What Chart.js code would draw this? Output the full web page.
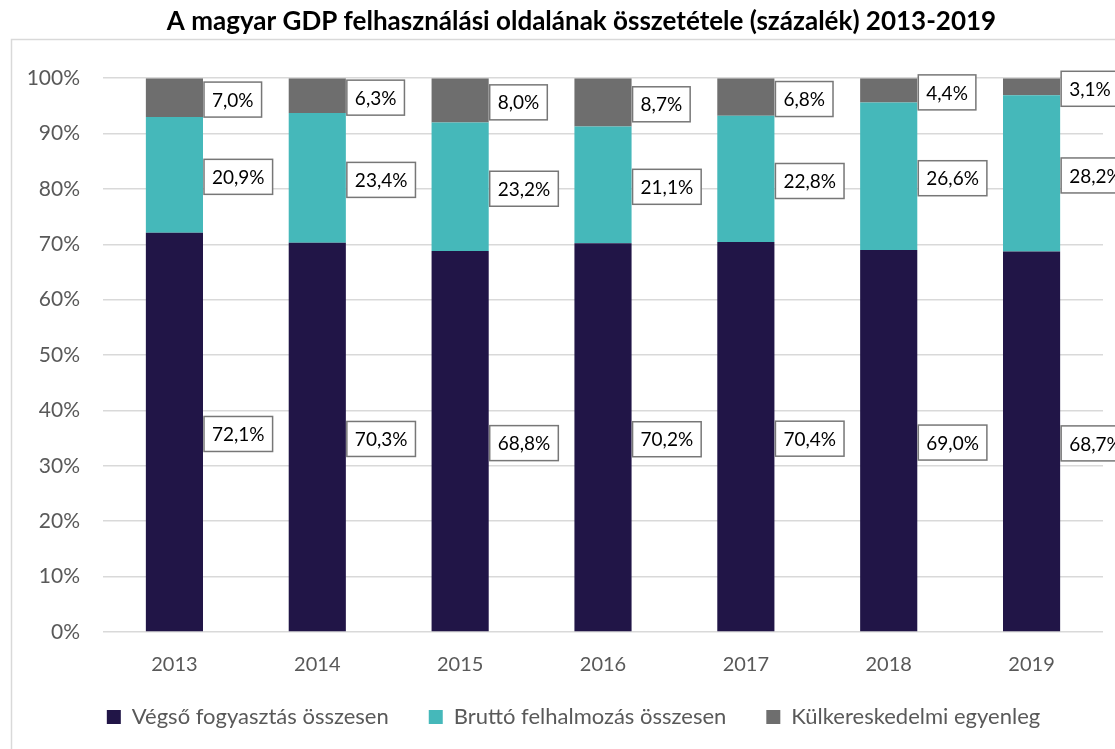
<!DOCTYPE html>
<html>
<head>
<meta charset="utf-8">
<script src="https://cdn.jsdelivr.net/npm/chart.js@4"></script>
<style>
  body { margin: 0; background: #fff; }
  #wrap { width: 1115px; height: 749px; }
</style>
</head>
<body>
<div id="wrap"><canvas id="myChart" width="1115" height="749"></canvas></div>
<script>
const years = ['2013', '2014', '2015', '2016', '2017', '2018', '2019'];
const vegso = [72.1, 70.3, 68.8, 70.2, 70.4, 69.0, 68.7];
const brutto = [20.9, 23.4, 23.2, 21.1, 22.8, 26.6, 28.2];
const kulker = [7.0, 6.3, 8.0, 8.7, 6.8, 4.4, 3.1];
const yTicks = [0, 10, 20, 30, 40, 50, 60, 70, 80, 90, 100];

const FONT = 'Lato, "Open Sans", sans-serif';

// frame round the chart body, like the Excel chart area
const framePlugin = {
    id: 'frame',
    beforeDraw(chart) {
        const ctx = chart.ctx;
        ctx.save();
        ctx.strokeStyle = '#d9d9d9';
        ctx.lineWidth = 1.5;
        ctx.strokeRect(11.5, 39.5, chart.width + 20, chart.height + 20);
        ctx.restore();
    }
};

// legend and title sit a little right of centre in the original
const boxShift = {
    id: 'boxShift',
    afterLayout(chart) {
        chart.legend.left += 22;
        chart.legend.right += 22;
        chart.legend.top -= 11;
        chart.legend.bottom -= 11;
        chart.titleBlock.left += 30;
        chart.titleBlock.right += 30;
    }
};

// boxed value labels to the right of each segment
const boxLabels = {
    id: 'boxLabels',
    afterDatasetsDraw(chart) {
        const ctx = chart.ctx;
        ctx.save();
        ctx.font = '19px ' + FONT;
        ctx.textBaseline = 'middle';
        chart.data.datasets.forEach((ds, i) => {
            const meta = chart.getDatasetMeta(i);
            meta.data.forEach((bar, j) => {
                const text = ds.data[j].toFixed(1).replace('.', ',') + '%';
                const w = ctx.measureText(text).width + 16;
                const h = 35;
                const x = bar.x + bar.width / 2 + 1;
                const yMid = (bar.y + bar.base) / 2;
                const y = yMid - h / 2 + 2;
                ctx.fillStyle = '#fff';
                ctx.fillRect(x, y, w, h);
                ctx.strokeStyle = '#777';
                ctx.lineWidth = 1.5;
                ctx.strokeRect(x, y, w, h);
                ctx.fillStyle = '#000';
                ctx.textAlign = 'left';
                ctx.fillText(text, x + 8, y + h / 2 + 1);
            });
        });
        ctx.restore();
    }
};

const ctx = document.getElementById('myChart');

new Chart(ctx, {
    type: 'bar',
    data: {
        labels: years,
        datasets: [
            { label: 'Végső fogyasztás összesen', data: vegso, backgroundColor: '#211547' },
            { label: 'Bruttó felhalmozás összesen', data: brutto, backgroundColor: '#45b8ba' },
            { label: 'Külkereskedelmi egyenleg', data: kulker, backgroundColor: '#6e6e6e' }
        ]
    },
    options: {
        responsive: false,
        animation: false,
        layout: { padding: { left: 0, right: 12, bottom: 0 } },
        datasets: { bar: { barPercentage: 0.4, categoryPercentage: 1.0 } },
        plugins: {
            title: {
                display: true,
                text: 'A magyar GDP felhasználási oldalának összetétele (százalék) 2013-2019',
                color: '#000',
                font: { family: FONT, size: 26, weight: 'bold' },
                padding: { top: 6, bottom: 41 }
            },
            legend: {
                position: 'bottom',
                labels: {
                    color: '#595959',
                    font: { family: FONT, size: 22 },
                    boxWidth: 14,
                    boxHeight: 14,
                    padding: 40
                }
            },
            tooltip: { enabled: false }
        },
        scales: {
            x: {
                stacked: true,
                afterFit(scale) { scale.height = 45; },
                grid: { display: false },
                border: { display: false },
                ticks: { color: '#595959', font: { family: FONT, size: 20 }, padding: 13 }
            },
            y: {
                stacked: true,
                min: 0,
                max: 100,
                afterFit(scale) { scale.width = 103; },
                afterBuildTicks(scale) { scale.ticks = yTicks.map(v => ({ value: v })); },
                grid: { color: '#d9d9d9', lineWidth: 1.5, drawTicks: false },
                border: { display: false },
                ticks: {
                    color: '#595959',
                    font: { family: FONT, size: 21 },
                    padding: 23,
                    callback: (v) => v + '%'
                }
            }
        }
    },
    plugins: [framePlugin, boxShift, boxLabels]
});
</script>
</body>
</html>
